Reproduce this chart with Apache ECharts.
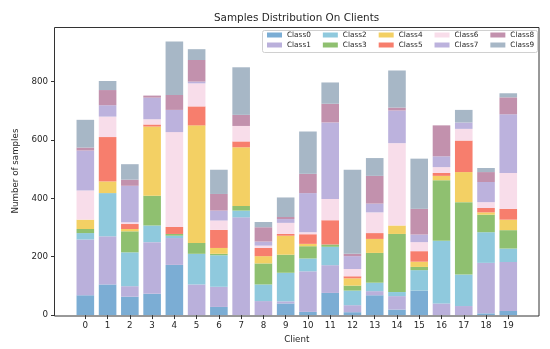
<!DOCTYPE html>
<html>
<head>
<meta charset="utf-8">
<script src="https://cdn.jsdelivr.net/npm/echarts@6/dist/echarts.min.js"></script>
<style>html,body{margin:0;padding:0;background:#fff}#c{width:550px;height:349px}</style>
</head>
<body>
<div id="c"></div>
<script>
var clients = ['0','1','2','3','4','5','6','7','8','9','10','11','12','13','14','15','16','17','18','19'];
var classNames = ['Class0','Class1','Class2','Class3','Class4','Class5','Class6','Class7','Class8','Class9'];
var class0 = [68,105,63,73,172,0,28,0,0,40,11,76,10,68,19,84,0,0,6,14];
var class1 = [191,165,36,177,92,105,69,335,48,7,139,95,24,14,46,0,40,31,173,168];
var class2 = [22,148,116,57,8,105,108,23,57,98,44,63,50,29,14,70,215,108,105,46];
var class3 = [14,0,72,102,6,37,5,16,72,62,42,8,17,102,199,11,207,248,60,63];
var class4 = [32,40,8,237,0,403,20,201,25,65,8,0,25,48,29,18,15,103,8,36];
var class5 = [0,152,17,7,24,65,62,20,28,6,33,83,7,20,0,36,10,108,15,37];
var class6 = [100,70,6,18,325,79,32,53,8,38,7,73,25,71,282,31,20,40,20,123];
var class7 = [137,39,125,74,76,6,34,0,14,13,134,262,44,30,112,26,37,22,69,201];
var class8 = [10,52,21,7,51,74,57,38,49,7,66,64,8,95,10,88,106,0,34,58];
var class9 = [95,31,53,0,183,37,83,163,18,67,145,73,288,61,127,172,0,43,14,14];
var yTicks = [0,200,400,600,800];

var classData = [class0,class1,class2,class3,class4,class5,class6,class7,class8,class9];
var colors = ['#7BADD4','#BAB0DB','#8FC9DD','#8FC070','#F3D064','#F77E6D','#F8DDEA','#BCB2DD','#C291AD','#A7B7C6'];
var font = 'DejaVu Sans';
var txt = '#262626';

var series = classNames.map(function(n,i){
  return {name:n,type:'bar',stack:'all',data:classData[i],barWidth:17.6,
    itemStyle:{color:colors[i]},emphasis:{disabled:true}};
});

var chart = echarts.init(document.getElementById('c'),null,{renderer:'canvas'});
chart.setOption({
  animation:false,
  backgroundColor:'#fff',
  title:{text:'Samples Distribution On Clients',left:214,top:13,padding:0,
    textStyle:{fontFamily:font,fontSize:10.4,fontWeight:'normal',color:txt}},
  legend:[
    {data:['Class0','Class2','Class4','Class6','Class8'],left:267,top:31.5,padding:0,itemWidth:15,itemHeight:5,itemGap:12,
     icon:'rect',textStyle:{fontFamily:font,fontSize:7.3,color:txt},selectedMode:false},
    {data:['Class1','Class3','Class5','Class7','Class9'],left:267,top:41.5,padding:0,itemWidth:15,itemHeight:5,itemGap:12,
     icon:'rect',textStyle:{fontFamily:font,fontSize:7.3,color:txt},selectedMode:false}
  ],
  grid:{left:74.2,width:445.2,top:27,bottom:33,containLabel:false},
  xAxis:{type:'category',data:clients,boundaryGap:true,
    axisLine:{show:false},
    axisTick:{show:true,alignWithLabel:true,length:4,lineStyle:{color:'#333'}},
    axisLabel:{margin:6,fontFamily:font,fontSize:8.7,color:txt},
    name:'Client',nameLocation:'middle',nameGap:18,
    nameTextStyle:{fontFamily:font,fontSize:8.7,color:txt}},
  yAxis:{type:'value',min:0,max:987,interval:200,offset:19.2,
    axisLine:{show:false},splitLine:{show:false},
    axisTick:{show:true,length:4,lineStyle:{color:'#333'},customValues:yTicks},
    axisLabel:{margin:7,fontFamily:font,fontSize:8.7,color:txt,customValues:yTicks},
    name:'Number of samples',nameLocation:'middle',nameGap:27,
    nameTextStyle:{fontFamily:font,fontSize:8.7,color:txt}},
  graphic:[
    {type:'rect',z:100,silent:true,shape:{x:54.5,y:27.5,width:484.5,height:288.5},
     style:{fill:'none',stroke:'#333',lineWidth:1}},
    {type:'rect',z:0,silent:true,shape:{x:262.5,y:30.5,width:275,height:22,r:2},
     style:{fill:'rgba(255,255,255,0.8)',stroke:'#d0d0d0',lineWidth:1}}
  ],
  series:series
});
</script>
</body>
</html>
